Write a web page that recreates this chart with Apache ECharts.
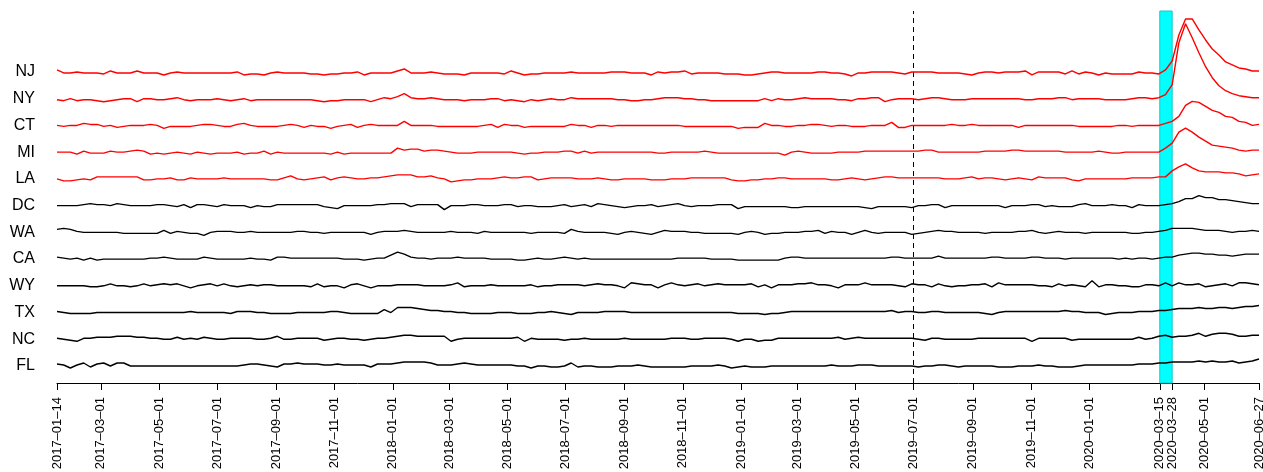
<!DOCTYPE html>
<html lang="en">
<head>
<meta charset="utf-8"/>
<title>Weekly series by state</title>
<script src="https://cdn.jsdelivr.net/npm/echarts@6/dist/echarts.min.js"></script>
<style>
  html, body { margin: 0; padding: 0; background: #fff; }
  #chart { width: 1263px; height: 472px; }
</style>
</head>
<body>
<div id="chart"></div>
<script>
// weekly observations, first week 2017-01-14, 181 weeks
const firstWeek = '2017-01-14';
const states = ['NJ', 'NY', 'CT', 'MI', 'LA', 'DC', 'WA', 'CA', 'WY', 'TX', 'NC', 'FL'];
const highlighted = ['NJ', 'NY', 'CT', 'MI', 'LA'];

// deviation of each state from its own level, one value per week
const nj = [2,-1,-1,0,-1,-1,-1,-2,1,-1, -1,-1,1,-1,-1,-1,-3,-1,0,-1, -1,-1,-1,-1,-1,-1,-1,0,-3,-2,
  -2,-3,-1,0,-1,-1,-1,-1,-2,-2, -3,-2,-2,-1,-1,0,-3,-1,-1,-1, -1,1,3,-1,-1,-1,0,-1,-2,-2,
  -2,-3,-1,-1,-1,-1,-1,-2,1,-1, -3,-2,-2,-1,-1,-1,-1,0,-1,-1, -1,-1,-1,0,0,0,-1,-1,-1,-3,
  0,-1,0,0,1,-2,-1,-1,-1,-1, -2,-2,-2,-3,-3,-2,-1,0,0,-1, -1,-1,-1,-1,0,0,-1,-1,-2,-4,
  -1,-1,0,0,0,0,-1,-2,0,0, 0,0,-1,-1,-1,-1,-2,-3,-1,0, 0,-1,0,0,0,1,-3,0,0,0,
  0,-2,1,-2,0,-1,-3,-1,-2,-2, -2,-2,0,-1,-1,-2,2,11,37,53, 53,42,32,23,17,10,7,4,3,1,1];
const ny = [-1,-2,0,-2,-1,-1,-2,-3,-2,-1, 0,0,-3,0,0,-1,-1,0,1,-1, -2,-1,-1,-1,0,-1,-2,-1,0,-2,
  -1,-1,-1,-1,-1,-1,-1,-1,-1,-2, -3,-2,-2,-1,-1,-1,-1,-3,-1,1, 0,2,5,1,0,0,1,0,-1,-1,
  -1,-2,-1,-1,-1,0,0,-2,-1,-2, -3,-1,-2,-1,0,-1,-1,1,0,0, 0,0,0,0,-1,-1,-2,-2,-1,-1,
  0,1,1,1,0,0,-1,-1,-2,-2, -2,-2,-2,-2,-2,-2,0,-2,0,-1, -1,0,1,0,0,0,0,-1,-1,-2,
  0,0,1,1,-3,-1,0,0,0,-1, 0,1,1,0,-1,-1,-1,0,0,0, 0,0,0,0,0,-1,-1,0,0,0,
  1,1,-1,0,0,0,0,-1,-1,-1, -1,0,1,1,0,1,4,14,56,75, 61,46,32,21,13,8,5,3,2,1,1];
const ct = [0,-1,0,0,2,1,1,-1,0,-2, -1,0,0,0,1,0,-3,-1,-1,-1, -1,0,1,1,0,-1,-1,1,2,0,
  -1,-1,-1,-1,0,1,0,-2,0,-1, -1,-3,-1,0,1,-2,0,1,0,0, 0,0,4,0,0,0,0,-1,-1,-1,
  -1,-1,-1,-1,0,1,-2,1,0,0, -2,-1,-1,-1,-1,-1,-1,1,0,0, -2,0,0,-1,0,0,0,0,0,0,
  0,0,0,0,-1,-1,-1,-1,-1,-1, -1,-1,-3,-2,-2,-2,2,0,0,-1, -1,0,0,1,1,0,-1,0,0,-1,
  -1,-1,0,0,0,3,-2,-2,0,0, 0,0,0,0,1,0,0,1,0,0, 0,0,0,0,-2,0,0,0,0,0,
  0,0,0,-1,-1,-1,-1,-1,-1,0, 0,-1,0,0,0,0,2,4,9,20, 24,23,19,15,13,9,8,4,3,0,1];
const mi = [0,0,0,-2,1,-1,-1,-1,1,0, 0,1,2,1,-2,-1,-2,-1,0,-1, -2,0,-1,-2,-1,-1,-1,0,-2,-1,
  -1,1,-2,0,-1,-1,-1,-1,-1,-1, -1,-2,0,-2,-1,-1,-1,-1,-1,-1, -1,4,2,3,3,1,2,2,1,0,
  -1,-1,-1,0,0,0,0,0,0,-1, -2,-1,-1,0,0,0,1,1,-1,1, -1,0,0,0,0,0,0,0,0,0,
  -1,-1,0,0,0,0,0,1,0,-1, -1,-1,-1,-1,-1,-1,-1,-1,-1,-3, 0,1,0,-1,-1,-1,-1,0,0,0,
  0,1,1,1,1,1,1,1,1,1, 2,2,0,0,0,0,0,0,0,1, 1,1,1,2,2,1,1,1,1,1,
  1,0,0,0,0,0,1,0,-1,-1, 0,0,0,0,0,0,4,9,20,24, 20,15,11,7,6,5,4,2,1,2,2];
const la = [0,-2,-2,-1,0,-1,2,2,2,2, 2,2,2,-1,-1,0,0,1,-1,-1, 1,0,0,0,0,1,0,0,0,0,
  0,0,-1,-1,1,3,0,-1,0,1, 2,-1,1,2,1,0,0,1,1,2, 3,4,4,4,2,2,3,1,0,-3,
  -2,-1,-1,0,0,0,1,2,1,1, 2,2,-1,0,1,1,1,1,0,0, 0,1,0,-1,-1,0,0,0,0,-1,
  -1,-1,0,0,0,1,1,1,1,1, 1,-1,-2,-2,-1,-1,0,0,1,1, 0,0,0,0,0,0,-1,-1,0,1,
  0,-1,0,1,2,2,1,1,1,1, 1,1,1,0,0,0,1,2,0,1, 1,0,-1,0,1,0,-1,2,1,1,
  1,1,-1,-2,0,0,0,0,0,0, 0,1,1,1,1,2,2,8,12,15, 11,8,7,7,7,6,6,5,3,4,5];
const dc = [0,0,0,0,1,2,1,1,0,2, 1,0,0,0,0,1,1,0,-1,1, -2,1,1,0,-1,1,0,0,0,-2,
  0,-1,-1,1,1,1,1,1,1,1, -1,-2,-3,0,0,0,0,0,1,1, 2,2,2,-1,1,1,1,1,-4,0,
  0,0,1,1,0,0,0,1,1,-1, 0,0,-1,-1,-1,0,1,-1,0,1, -1,2,1,0,-1,-2,-1,0,0,1,
  -1,0,1,2,0,-1,0,0,0,1, 1,1,-3,-1,-1,-1,-1,-1,-1,-1, -2,-2,-1,-1,-1,-1,-1,-1,-1,-1,
  -1,-2,-3,-1,-1,-1,-1,-1,-2,0, 0,1,1,-2,0,0,0,0,0,0, 0,0,-2,0,0,0,1,1,-1,0,
  -1,-1,-1,1,2,0,0,0,1,0, 0,-2,1,0,0,0,1,2,4,7, 7,10,8,8,6,6,5,4,3,2,2];
const wa = [3,4,3,1,0,0,0,0,0,0, -1,-1,-1,-1,-1,-1,2,-1,1,0, -1,-1,-3,0,1,1,1,0,0,1,
  0,0,0,0,0,0,1,1,0,0, -1,0,0,0,0,0,0,-2,0,1, 1,1,2,1,0,0,0,0,0,1,
  0,0,0,-1,1,0,0,0,0,0, 0,-1,0,0,0,0,-1,3,1,0, 0,0,0,-1,-2,0,1,0,-1,-2,
  0,2,1,1,1,0,0,-1,-1,-1, -1,-1,-2,0,1,0,-2,-1,-1,0, 0,0,1,1,2,-1,1,0,0,-2,
  0,2,0,-1,0,0,0,0,-2,-1, 0,1,2,1,1,0,0,0,0,-1, 0,0,0,0,1,1,2,0,-1,0,
  1,0,0,0,-1,0,0,0,0,0, 0,-1,-1,0,0,1,2,4,4,4, 4,3,2,2,2,1,0,1,1,2,1];
const ca = [2,1,0,1,-1,1,-1,0,0,0, 0,0,0,0,1,1,2,1,0,0, 0,0,2,1,0,0,0,0,0,1,
  0,0,-1,2,2,1,1,1,1,1, 1,1,1,0,0,0,-1,0,1,1, 4,7,5,2,1,1,0,1,1,1,
  2,1,1,1,1,0,0,0,0,-1, -1,0,1,0,0,1,2,1,0,1, 0,0,0,0,0,0,0,0,0,0,
  0,0,0,1,1,1,1,1,0,0, 0,0,-1,-1,-1,-1,-1,-1,-1,1, 2,2,1,1,1,1,1,1,1,1,
  1,1,1,1,1,2,2,1,1,1, 1,1,3,1,1,1,1,1,1,1, 2,2,1,1,1,1,2,2,1,1,
  1,0,1,1,1,1,1,1,1,0, 1,0,1,1,0,1,2,2,4,5, 6,6,5,5,4,4,3,4,5,5,5];
const wy = [0,0,0,0,0,-1,-1,0,2,0, 0,-1,0,2,0,1,2,1,2,0, -2,0,1,2,0,2,0,-1,0,1,
  0,1,1,0,0,0,0,0,-1,2, -1,0,0,-2,1,2,0,-2,0,0, 0,1,1,1,1,0,0,0,0,1,
  3,-1,0,0,0,1,0,0,0,0, 0,1,-1,0,0,1,1,1,1,0, 1,2,1,1,0,-2,3,2,1,1,
  -2,1,3,1,0,1,2,0,1,2, 1,1,1,1,2,-1,1,-2,1,1, 1,2,2,3,1,1,0,-2,1,1,
  1,3,1,1,1,1,0,-1,2,1, 1,-1,2,0,-1,0,0,1,1,2, -1,3,1,1,1,1,1,0,0,-1,
  2,0,1,0,-1,5,-1,1,1,0, 0,-1,-1,1,1,0,3,0,3,1, 1,2,-1,0,1,2,0,3,3,2,1];
const tx = [1,0,-1,-1,-1,-1,0,0,0,0, 0,0,0,0,0,0,0,0,0,0, 1,0,0,0,0,0,-1,1,1,1,
  0,0,-1,-1,-1,-1,0,0,0,0, 0,1,1,0,-1,-1,-1,-1,-1,3, 0,5,5,5,4,3,2,2,1,1,
  0,0,-1,-1,-1,-1,0,0,0,-1, -1,-1,0,0,1,0,-1,-2,0,0, 0,0,1,1,1,1,0,0,0,0,
  0,0,0,0,0,0,0,0,0,0, 0,0,-1,-1,-1,-1,-2,-1,-1,0, 1,1,1,1,1,1,1,1,1,1,
  1,1,1,1,1,2,0,1,1,0, 0,1,1,0,0,0,0,0,0,-1, -2,0,1,1,1,1,1,1,1,1,
  1,2,1,1,0,0,0,-2,-1,0, 0,0,1,1,1,2,2,3,4,4, 4,5,4,4,5,5,4,5,6,6,7];
const nc = [1,0,-1,-2,1,1,2,2,2,3, 3,3,2,2,1,1,0,0,2,0, 1,0,2,1,0,0,1,1,1,1,
  0,0,1,3,0,0,1,1,1,1, -1,0,1,1,0,0,-1,0,1,1, 2,3,4,4,3,3,3,3,3,-2,
  0,1,1,1,1,1,1,1,1,2, -2,1,0,0,0,0,-1,0,0,1, 0,0,0,0,0,1,0,0,0,0,
  0,0,1,1,1,0,0,1,1,1, 1,0,-2,0,0,-2,-1,-1,1,1, 1,1,1,1,1,1,1,2,0,1,
  2,1,1,1,1,1,1,1,1,0, -1,1,1,0,0,0,0,0,1,1, 1,1,1,1,1,1,-2,1,1,1,
  1,1,-1,0,0,0,0,0,0,0, 0,0,2,0,1,3,4,2,3,3, 4,6,3,5,6,6,5,3,3,4,4];
const fl = [2,1,-2,1,3,-1,2,3,0,3, 3,0,0,0,0,0,0,0,0,0, 0,0,0,0,0,0,0,0,1,2,
  2,1,0,-1,2,2,3,2,2,2, 1,1,2,1,1,1,1,-1,2,2, 2,3,4,4,4,4,3,1,1,1,
  2,3,2,1,1,1,1,1,1,0, 0,-2,0,0,-1,-1,0,3,-1,0, 0,-1,-1,-1,0,0,0,1,0,-1,
  -1,-1,-1,-1,-1,0,0,0,0,1, 0,-2,-1,0,-1,-1,-1,0,0,0, 0,0,0,0,0,0,1,0,0,0,
  1,1,1,0,0,0,0,0,0,-1, 0,0,1,1,0,-1,0,0,0,0, 0,-1,-1,-1,0,0,0,1,0,0,
  -1,-1,-1,0,1,1,1,1,1,1, 1,1,2,2,2,3,3,4,4,4, 4,5,4,5,4,4,5,3,4,5,7];

const tickLabels = ['2017-01-14', '2017-03-01', '2017-05-01', '2017-07-01', '2017-09-01', '2017-11-01',
  '2018-01-01', '2018-03-01', '2018-05-01', '2018-07-01', '2018-09-01', '2018-11-01',
  '2019-01-01', '2019-03-01', '2019-05-01', '2019-07-01', '2019-09-01', '2019-11-01',
  '2020-01-01', '2020-03-15', '2020-03-28', '2020-05-01', '2020-06-27'];
const cutoffDate = '2019-07-01';
const lockdown = ['2020-03-15', '2020-03-28'];

const devs = { NJ: nj, NY: ny, CT: ct, MI: mi, LA: la, DC: dc, WA: wa, CA: ca, WY: wy, TX: tx, NC: nc, FL: fl };

const DAY = 86400000;
const ts = d => Date.parse(d + 'T00:00:00Z');
const fmt = v => new Date(v).toISOString().slice(0, 10).replace(/-/g, '\u2013');
const step = 26.73; // vertical gap between two states
const t0 = ts(firstWeek);

const chart = echarts.init(document.getElementById('chart'));
const font = "'Liberation Sans', Arial, sans-serif";

const series = states.map(function (name, s) {
    const level = (states.length - 1 - s) * step;
    const red = highlighted.indexOf(name) >= 0;
    return {
        type: 'line',
        name: name,
        data: devs[name].map((v, i) => [t0 + i * 7 * DAY, level + v]),
        showSymbol: false,
        symbol: 'none',
        lineStyle: { color: red ? '#ff0000' : '#000000', width: 1.4 },
        z: 5
    };
});

// band and dashed marker sit on an empty series underneath the lines
series.unshift({
    type: 'line',
    name: 'marks',
    data: [],
    z: 1,
    markArea: {
        silent: true,
        itemStyle: { color: '#00ffff', borderColor: '#1cc6c6', borderWidth: 1 },
        data: [[{ xAxis: ts(lockdown[0]) }, { xAxis: ts(lockdown[1]) }]]
    },
    markLine: {
        silent: true,
        symbol: 'none',
        label: { show: false },
        lineStyle: { color: '#000', type: [5, 4], width: 1 },
        data: [{ xAxis: ts(cutoffDate) }]
    }
});

const option = {
    animation: false,
    backgroundColor: '#ffffff',
    grid: { left: 57, right: 4, top: 11, bottom: 89, outerBoundsMode: 'none' },
    xAxis: {
        type: 'value',
        min: t0,
        max: ts(tickLabels[tickLabels.length - 1]),
        axisLine: { show: true, onZero: false, lineStyle: { color: '#000', width: 1 } },
        axisTick: { show: true, length: 7, lineStyle: { color: '#000' }, customValues: tickLabels.map(ts) },
        axisLabel: {
            rotate: 90, margin: 14, color: '#000', fontSize: 13, fontFamily: font,
            customValues: tickLabels.map(ts), formatter: fmt
        },
        splitLine: { show: false }
    },
    yAxis: {
        type: 'value',
        min: -17,
        max: 355,
        axisLine: { show: false },
        axisTick: { show: false },
        splitLine: { show: false },
        axisLabel: {
            margin: 22, color: '#000', fontSize: 16, fontFamily: font,
            customValues: states.map((n, s) => (states.length - 1 - s) * step),
            formatter: v => states[states.length - 1 - Math.round(v / step)]
        }
    },
    series: series
};
chart.setOption(option);
</script>
</body>
</html>
